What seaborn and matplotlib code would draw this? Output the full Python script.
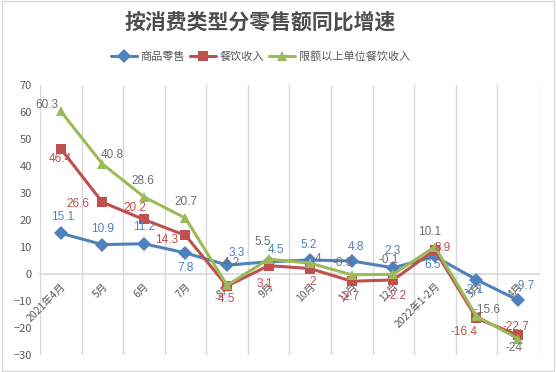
import matplotlib.pyplot as plt
import matplotlib.patches as mpatches
import pandas as pd
import seaborn as sns

# categories and series values
months = ["2021年4月", "5月", "6月", "7月", "8月", "9月", "10月", "11月", "12月",
          "2022年1-2月", "3月", "4月"]
retail = [15.1, 10.9, 11.2, 7.8, 3.3, 4.5, 5.2, 4.8, 2.3, 6.5, -2.1, -9.7]
catering = [46.4, 26.6, 20.2, 14.3, -4.5, 3.1, 2, -2.7, -2.2, 8.9, -16.4, -22.7]
catering_above = [60.3, 40.8, 28.6, 20.7, -4.2, 5.5, 4, -0.3, -0.1, 10.1, -15.6, -24]

series_names = ["商品零售", "餐饮收入", "限额以上单位餐饮收入"]

# label offsets in pixels (style only)
off_retail = [(2, 16), (0, 16), (0, 17), (0, -15), (10, 12), (7, 12), (-2, 15),
              (4, 14), (-1, 17), (-2, -9), (-3, -10), (7, 14)]
off_catering = [(-1, -10), (-24, -2), (-9, 11), (-19, -5), (-2, -13), (-4, -18),
                (3, -13), (-2, -16), (3, -16), (8, 2), (-12, -14), (-2, 8)]
off_above = [(-14, 6), (10, 9), (-1, 16), (0, 16), (3, 22), (-6, 17), (8, 4),
             (-9, 12), (-5, 14), (-5, 15), (11, 6), (-4, -9)]


def main():
    sns.set_theme(style="white")
    plt.rcParams["font.family"] = ["Noto Sans CJK SC", "DejaVu Sans"]

    colors = ["#4F81BD", "#C0504D", "#9BBB59"]
    label_colors = ["#4F81BD", "#C0504D", "#6E6E6E"]
    markers = ["D", "s", "^"]

    df = pd.DataFrame({
        "pos": list(range(len(months))) * 3,
        "value": retail + catering + catering_above,
        "series": [s for s in series_names for _ in months],
    })

    fig = plt.figure(figsize=(5.56, 3.72), dpi=100)
    ax = fig.add_axes([0.072, 0.046, 0.897, 0.725])

    sns.lineplot(
        data=df, x="pos", y="value", hue="series", style="series",
        palette=dict(zip(series_names, colors)),
        markers=dict(zip(series_names, markers)),
        dashes=False, linewidth=2.2, markersize=7, markeredgewidth=0,
        ax=ax, legend=True,
    )

    ax.set_xlim(-0.5, len(months) - 0.5)
    ax.set_ylim(-30, 70)
    ax.set_yticks(range(-30, 71, 10))
    ax.set_xlabel("")
    ax.set_ylabel("")

    # vertical gridlines between categories
    for b in range(len(months) + 1):
        ax.axvline(b - 0.5, color="#D9D9D9", linewidth=1, zorder=0)

    for s in ax.spines.values():
        s.set_visible(False)
    ax.spines["bottom"].set_visible(True)
    ax.spines["bottom"].set_position(("data", 0))
    ax.spines["bottom"].set_color("#D9D9D9")
    ax.spines["bottom"].set_zorder(0)

    ax.set_xticks(range(len(months)))
    ax.set_xticklabels(months, rotation=45, ha="right", rotation_mode="anchor",
                       fontsize=7.5, color="#595959")
    ax.tick_params(axis="x", length=0, pad=5)
    ax.tick_params(axis="y", length=0, labelsize=8, labelcolor="#595959", pad=6)

    for vals, offs, c in zip([retail, catering, catering_above],
                             [off_retail, off_catering, off_above], label_colors):
        for i, (v, o) in enumerate(zip(vals, offs)):
            ax.annotate(f"{v:g}", (i, v), xytext=o, textcoords="offset pixels",
                        ha="center", va="center", fontsize=8.5, color=c,
                        family=["Liberation Sans", "DejaVu Sans"])

    handles, labels = ax.get_legend_handles_labels()
    ax.get_legend().remove()
    fig.legend(handles, labels, loc="center", bbox_to_anchor=(0.468, 0.847), ncol=3,
               frameon=False, fontsize=8, handlelength=2.4, columnspacing=0.4,
               handletextpad=0.3, labelcolor="#595959")

    fig.text(0.468, 0.94, "按消费类型分零售额同比增速", ha="center", va="center",
             fontsize=15, fontweight="bold", color="#4D4D4D")

    fig.patches.append(mpatches.Rectangle((0.003, 0.004), 0.994, 0.992,
                                          transform=fig.transFigure, fill=False,
                                          edgecolor="#D9D9D9", linewidth=1))

    plt.savefig("out.png", dpi=100)


if __name__ == "__main__":
    main()
